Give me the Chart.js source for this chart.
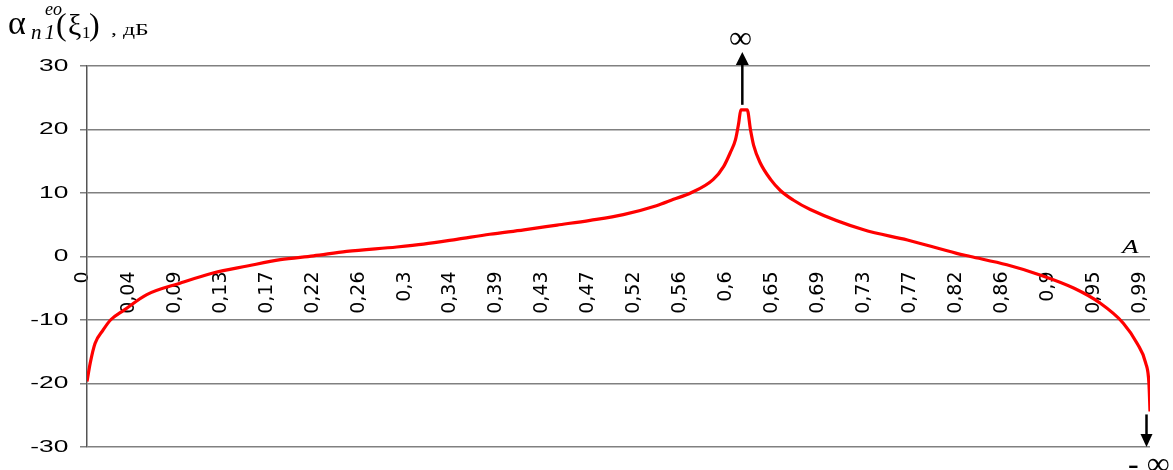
<!DOCTYPE html>
<html><head><meta charset="utf-8">
<script src="https://cdn.jsdelivr.net/npm/chart.js@4.4.0/dist/chart.umd.min.js"></script>
<style>
html,body{margin:0;padding:0;background:#fff;overflow:hidden}
#wrap{position:relative;width:1173px;height:470px;overflow:hidden}
canvas{position:absolute;left:0;top:0}
.t{position:absolute;font-family:"Liberation Serif","Times New Roman",serif;line-height:1;white-space:nowrap;color:#000}
.i{font-style:italic}
</style></head><body>
<div id="wrap">
<canvas id="c" width="1173" height="470"></canvas>
<span class="t" style="left:8px;top:6px;font-size:34px">α</span>
<span class="t i" style="left:45px;top:0px;font-size:18px">eo</span>
<span class="t i" style="left:31px;top:22px;font-size:21px;letter-spacing:3px">n1</span>
<span class="t" style="left:56px;top:8px;font-size:32px">(</span>
<span class="t" style="left:68px;top:10px;font-size:30px">ξ</span>
<span class="t" style="left:82px;top:24px;font-size:17px">1</span>
<span class="t" style="left:89px;top:8px;font-size:32px">)</span>
<span class="t" style="left:111px;top:21px;font-size:17px;transform:scaleX(1.4);transform-origin:0 0">, дБ</span>
<span class="t i" style="left:1122px;top:238px;font-size:18px;transform:scaleX(1.5);transform-origin:0 0">A</span>
<span class="t" style="left:729px;top:21px;font-size:32px">∞</span>
<span class="t" style="left:1128px;top:447px;font-size:32px">- ∞</span>
</div>
<script>
// A values (x) and attenuation in dB (y)
const aValues = [0, 0.003, 0.0075, 0.015, 0.022, 0.035, 0.056, 0.087, 0.118, 0.15, 0.181, 0.212, 0.243, 0.29, 0.315, 0.346, 0.377, 0.409, 0.44, 0.471, 0.502, 0.533, 0.549, 0.565, 0.586, 0.596, 0.602, 0.607, 0.61, 0.612, 0.618, 0.621, 0.624, 0.63, 0.64, 0.649, 0.661, 0.677, 0.727, 0.768, 0.814, 0.827, 0.861, 0.892, 0.924, 0.948, 0.97, 0.983, 0.991, 0.994, 0.995];
const dbValues = [-19.7, -16.8, -13.7, -11.6, -10.0, -8.4, -6.0, -4.2, -2.6, -1.5, -0.5, 0.1, 0.8, 1.5, 1.95, 2.7, 3.5, 4.2, 4.95, 5.7, 6.6, 8.0, 9.0, 10.0, 12.1, 14.2, 16.3, 18.4, 21.0, 23.1, 23.1, 20.0, 17.5, 14.8, 12.1, 10.4, 8.9, 7.4, 4.2, 2.6, 0.5, 0.0, -1.3, -2.9, -5.0, -7.3, -10.5, -13.7, -16.8, -20.0, -24.4];
const xTickValues = [0, 0.043, 0.086, 0.129, 0.172, 0.215, 0.258, 0.301, 0.344, 0.387, 0.43, 0.473, 0.516, 0.559, 0.602, 0.645, 0.688, 0.731, 0.774, 0.817, 0.86, 0.903, 0.946, 0.989];
const xTickLabels = ['0', '0,04', '0,09', '0,13', '0,17', '0,22', '0,26', '0,3', '0,34', '0,39', '0,43', '0,47', '0,52', '0,56', '0,6', '0,65', '0,69', '0,73', '0,77', '0,82', '0,86', '0,9', '0,95', '0,99'];
const yTickValues = [-30, -20, -10, 0, 10, 20, 30];
const yTickLabels = ['-30', '-20', '-10', '0', '10', '20', '30'];

const points = aValues.map((a, i) => ({x: a, y: dbValues[i]}));

const labelTweaks = {
  id: 'labelTweaks',
  afterUpdate(chart) {
    const sy = chart.scales.y;
    if (!sy._tweaked) {
      const oy = sy.drawLabels;
      sy.drawLabels = function (area) {
        const ctx = this.ctx;
        ctx.save();
        const x0 = this.right;
        ctx.translate(x0, 0); ctx.scale(1.55, 1); ctx.translate(-x0, 0);
        oy.call(this, area);
        ctx.restore();
      };
      sy._tweaked = true;
    }
    const sx = chart.scales.x;
    if (!sx._tweaked) {
      const ox = sx.drawLabels;
      sx.drawLabels = function (area) {
        const ctx = this.ctx;
        ctx.save();
        ctx.translate(-4, 0);
        ox.call(this, area);
        ctx.restore();
      };
      sx._tweaked = true;
    }
  }
};

function arrow(ctx, x, y1, y2, headLen, halfW) {
  const dir = y2 < y1 ? 1 : -1;
  ctx.beginPath();
  ctx.moveTo(x, y1);
  ctx.lineTo(x, y2 + dir * headLen);
  ctx.stroke();
  ctx.beginPath();
  ctx.moveTo(x, y2);
  ctx.lineTo(x - halfW, y2 + dir * headLen);
  ctx.lineTo(x + halfW, y2 + dir * headLen);
  ctx.closePath();
  ctx.fill();
}

const arrows = {
  id: 'arrows',
  afterDatasetsDraw(chart) {
    const {ctx, scales: {x, y}} = chart;
    ctx.save();
    ctx.strokeStyle = '#000'; ctx.fillStyle = '#000'; ctx.lineWidth = 2.5;
    let iMax = 0;
    dbValues.forEach((v, i) => { if (v > dbValues[iMax]) iMax = i; });
    const px = x.getPixelForValue(aValues[iMax]) + 1.5;
    arrow(ctx, px, y.getPixelForValue(dbValues[iMax]) - 5, y.getPixelForValue(30) - 14, 13, 6.5);
    const last = aValues.length - 1;
    const qx = x.getPixelForValue(aValues[last]) - 3.5;
    arrow(ctx, qx, y.getPixelForValue(dbValues[last]) + 3, y.getPixelForValue(-30), 13, 6);
    ctx.restore();
  }
};

new Chart(document.getElementById('c'), {
  type: 'line',
  data: {
    datasets: [{
      data: points,
      borderColor: '#ff0000',
      borderWidth: 3.2,
      pointRadius: 0,
      cubicInterpolationMode: 'monotone',
      fill: false
    }]
  },
  options: {
    responsive: false,
    animation: false,
    devicePixelRatio: 1,
    layout: {padding: {left: 0, right: 23, top: 66, bottom: 23}},
    plugins: {legend: {display: false}, tooltip: {enabled: false}},
    scales: {
      x: {
        type: 'linear',
        position: {y: 0},
        min: 0, max: 0.995,
        afterFit(s) { s.height = 0; s.paddingLeft = 0; s.paddingRight = 0; },
        afterBuildTicks(s) { s.ticks = xTickValues.map(v => ({value: v})); },
        grid: {display: false, drawTicks: false},
        border: {display: false},
        ticks: {
          autoSkip: false, maxRotation: 90, minRotation: 90, padding: 15,
          color: '#000', font: {family: 'DejaVu Sans', size: 19},
          callback: (v, i) => xTickLabels[i]
        }
      },
      y: {
        min: -30, max: 30,
        afterFit(s) { s.width = 87; s.paddingTop = 0; s.paddingBottom = 0; },
        afterBuildTicks(s) { s.ticks = yTickValues.map(v => ({value: v})); },
        grid: {color: '#808080', lineWidth: 1.5, tickLength: 7, tickColor: '#808080'},
        border: {color: '#555', width: 1.5},
        ticks: {
          padding: 5, color: '#000', font: {family: 'Liberation Sans', size: 17},
          callback: (v, i) => yTickLabels[i]
        }
      }
    }
  },
  plugins: [labelTweaks, arrows]
});
</script>
</body></html>
